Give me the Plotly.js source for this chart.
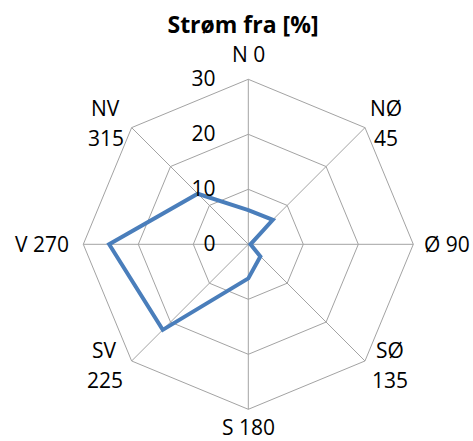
<!DOCTYPE html>
<html>
<head>
<meta charset="utf-8">
<script src="https://cdn.plot.ly/plotly-3.0.1.min.js"></script>
<style>html,body{margin:0;padding:0;background:#fff;}#chart{width:473px;height:441px;}</style>
</head>
<body>
<div id="chart"></div>
<script>
// Data
const directions = ["N 0", "NØ 45", "Ø 90", "SØ 135", "S 180", "SV 225", "V 270", "NV 315"];
const labelLines = [["N 0"], ["NØ", "45"], ["Ø 90"], ["SØ", "135"], ["S 180"], ["SV", "225"], ["V 270"], ["NV", "315"]];
const values = [6.2, 6.3, 0.4, 3.1, 6.2, 22.0, 25.3, 13.0];
const radialTicks = [0, 10, 20, 30];

// Styles / layout helpers
const FONT = "Open Sans, Noto Sans, sans-serif";
const W = 473, H = 441;
const cx = 248.3, cy = 244.3, R = 165;
const labelOffsets = [[0, -25], [21, -5], [34, 0], [25, 4], [0, 18], [-27, 4], [-41, 0], [-26, -5]];
const lineGap = 30;

const theta = directions.concat([directions[0]]);
const r = values.concat([values[0]]);

const annotations = [];
directions.forEach((d, i) => {
  const ang = i * 2 * Math.PI / directions.length;
  const vx = cx + R * Math.sin(ang), vy = cy - R * Math.cos(ang);
  const bx = vx + labelOffsets[i][0], by = vy + labelOffsets[i][1];
  const lines = labelLines[i];
  lines.forEach((t, j) => {
    const ly = by + (j - (lines.length - 1) / 2) * lineGap;
    annotations.push({
      text: t, showarrow: false, xref: "paper", yref: "paper",
      x: bx / W, y: 1 - ly / H, xanchor: "center", yanchor: "middle",
      font: {family: FONT, size: 21, color: "#000"}
    });
  });
});

Plotly.newPlot("chart", [{
  type: "scatterpolar",
  mode: "lines",
  r: r,
  theta: theta,
  line: {color: "#4A7EBB", width: 4},
  hoverinfo: "none",
  showlegend: false
}], {
  width: W, height: H,
  margin: {l: 0, r: 0, t: 0, b: 0},
  paper_bgcolor: "#fff",
  font: {family: FONT, size: 21, color: "#000"},
  title: {
    text: "<b>Strøm fra [%]</b>",
    font: {family: FONT, size: 23, color: "#000"},
    x: 243 / W, xanchor: "center",
    y: 1 - 25 / H, yanchor: "middle", yref: "container"
  },
  annotations: annotations,
  polar: {
    domain: {x: [(cx - R) / W, (cx + R) / W], y: [(H - cy - R) / H, (H - cy + R) / H]},
    gridshape: "linear",
    bgcolor: "#fff",
    angularaxis: {
      type: "category",
      categoryarray: directions,
      rotation: 90,
      direction: "clockwise",
      showline: true,
      linecolor: "#a3a3a3",
      linewidth: 1,
      showgrid: true,
      gridcolor: "#a3a3a3",
      gridwidth: 1,
      ticks: "",
      showticklabels: false
    },
    radialaxis: {
      range: [0, 30],
      tickvals: radialTicks,
      ticktext: radialTicks.map(String),
      angle: 90,
      side: "counterclockwise",
      showline: false,
      ticks: "outside",
      ticklen: 25,
      tickcolor: "rgba(0,0,0,0)",
      showgrid: true,
      gridcolor: "#a3a3a3",
      gridwidth: 1,
      tickangle: 90,
      tickfont: {family: FONT, size: 21, color: "#000"}
    }
  }
}, {displayModeBar: false, staticPlot: true});
</script>
</body>
</html>
